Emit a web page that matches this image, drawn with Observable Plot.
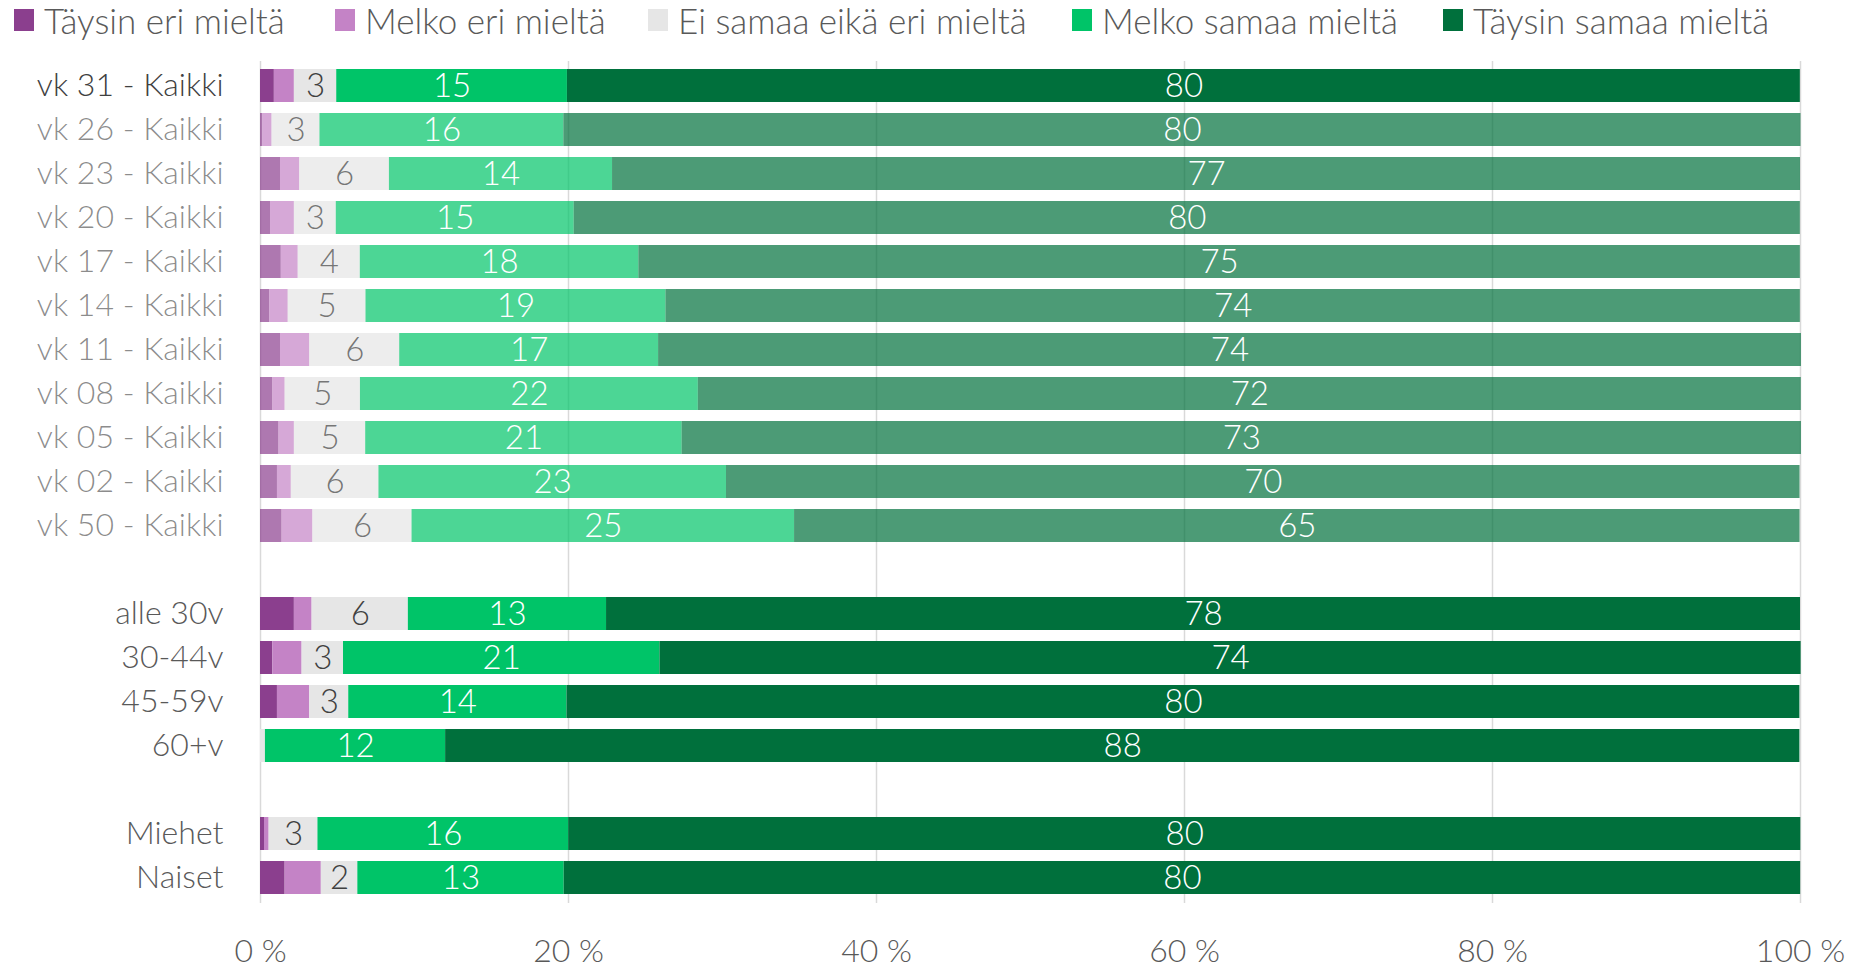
<!DOCTYPE html>
<html>
<head>
<meta charset="utf-8">
<script src="https://cdn.jsdelivr.net/npm/d3@7"></script>
<script src="https://cdn.jsdelivr.net/npm/@observablehq/plot@0.6"></script>
<style>
  html, body { margin: 0; padding: 0; background: white; overflow: hidden; }
  body { width: 1854px; height: 967px; font-family: Lato, "Open Sans", sans-serif; }
  #legend { position: relative; height: 40px; width: 1854px; }
  .item { position: absolute; top: 2px; height: 36px; display: flex; align-items: center; color: #595959; font-size: 35px; line-height: 1; font-weight: 300; white-space: nowrap; }
  .item span { line-height: 1; }
  .sw { width: 20px; height: 22px; margin-right: 10px; }
  svg text { font-weight: 300; }
</style>
</head>
<body>
<div id="legend"></div>
<div id="chart"></div>
<script>
const categories = ["vk 31 - Kaikki", "vk 26 - Kaikki", "vk 23 - Kaikki", "vk 20 - Kaikki", "vk 17 - Kaikki", "vk 14 - Kaikki", "vk 11 - Kaikki", "vk 08 - Kaikki", "vk 05 - Kaikki", "vk 02 - Kaikki", "vk 50 - Kaikki", "alle 30v", "30-44v", "45-59v", "60+v", "Miehet", "Naiset"];
const olderWave = [false, true, true, true, true, true, true, true, true, true, true, false, false, false, false, false, false];
const series = ["Täysin eri mieltä", "Melko eri mieltä", "Ei samaa eikä eri mieltä", "Melko samaa mieltä", "Täysin samaa mieltä"];
const colors = ["#8b3f8e", "#c483c6", "#e6e6e6", "#00c468", "#00703c"];

const taysinEri    = [0.9, 0.15, 1.3, 0.65, 1.35, 0.6, 1.3, 0.8, 1.2, 1.1, 1.4, 2.2, 0.8, 1.1, 0, 0.26, 1.6];
const melkoEri     = [1.3, 0.6, 1.25, 1.55, 1.1, 1.2, 1.9, 0.8, 1.0, 0.9, 2.0, 1.15, 1.9, 2.1, 0, 0.3, 2.35];
const eiSamaaEiEri = [2.75, 3.11, 5.82, 2.72, 4.03, 5.05, 5.84, 4.89, 4.63, 5.69, 6.44, 6.25, 2.69, 2.53, 0.32, 3.17, 2.37];
const melkoSamaa   = [14.98, 15.84, 14.49, 15.45, 18.09, 19.48, 16.81, 21.94, 20.55, 22.57, 24.84, 12.87, 20.55, 14.17, 11.7, 16.28, 13.4];
const taysinSamaa  = [80.06, 80.33, 77.14, 79.62, 75.42, 73.66, 74.21, 71.62, 72.68, 69.71, 65.29, 77.53, 74.1, 80.06, 87.94, 80.01, 80.29];

const xTicks = [0, 20, 40, 60, 80, 100];

// row order with blank separator rows between groups
const rowOrder = [...categories.slice(0, 11), "gap1", ...categories.slice(11, 15), "gap2", ...categories.slice(15)];

const seriesValues = [taysinEri, melkoEri, eiSamaaEiEri, melkoSamaa, taysinSamaa];
const long = [];
categories.forEach((cat, i) => {
  series.forEach((s, j) => {
    long.push({cat, series: s, si: j, value: seriesValues[j][i], faded: olderWave[i]});
  });
});

// legend
const legend = document.getElementById("legend");
const legendX = [14, 335, 648, 1072, 1443];
series.forEach((s, j) => {
  const it = document.createElement("div");
  it.className = "item";
  it.style.left = legendX[j] + "px";
  const sw = document.createElement("div");
  sw.className = "sw";
  sw.style.background = colors[j];
  it.appendChild(sw);
  const t = document.createElement("span");
  t.textContent = s;
  it.appendChild(t);
  legend.appendChild(it);
});

const op = d => d.faded ? 0.7 : 1;
const lbl = v => Math.round(v) >= 1 ? String(Math.round(v)) : null;

const chart = Plot.plot({
  width: 1854,
  height: 927,
  marginLeft: 260,
  marginRight: 54,
  marginTop: 21,
  marginBottom: 64,
  style: {fontFamily: "Lato, 'Open Sans', sans-serif", background: "white", overflow: "visible"},
  x: {domain: [0, 100]},
  y: {type: "band", domain: rowOrder, paddingInner: 0.24, paddingOuter: 0.12, axis: null},
  color: {domain: series, range: colors},
  opacity: {type: "identity"},
  marks: [
    Plot.ruleX(xTicks, {stroke: "#d9d9d9", strokeWidth: 1.5}),
    Plot.barX(long, Plot.stackX({x: "value", y: "cat", fill: "series", fillOpacity: op, order: null})),
    Plot.text(long, Plot.stackX({x: "value", y: "cat", z: "series", order: null,
      text: d => d.si === 2 ? lbl(d.value) : null, fill: "#404040", fillOpacity: op, fontSize: 33})),
    Plot.text(long, Plot.stackX({x: "value", y: "cat", z: "series", order: null,
      text: d => d.si >= 3 ? lbl(d.value) : null, fill: "white", fontSize: 33})),
    Plot.text(categories, {y: d => d, text: d => d, frameAnchor: "left", textAnchor: "end", dx: -37,
      fill: (d, i) => i === 0 ? "#404040" : "#595959", fillOpacity: (d, i) => olderWave[i] ? 0.7 : 1, fontSize: 32}),
    Plot.axisX({ticks: xTicks, tickFormat: d => d + " %", tickSize: 0, tickPadding: 36, fontSize: 32, color: "#595959", label: null})
  ]
});
document.getElementById("chart").appendChild(chart);
</script>
</body>
</html>
